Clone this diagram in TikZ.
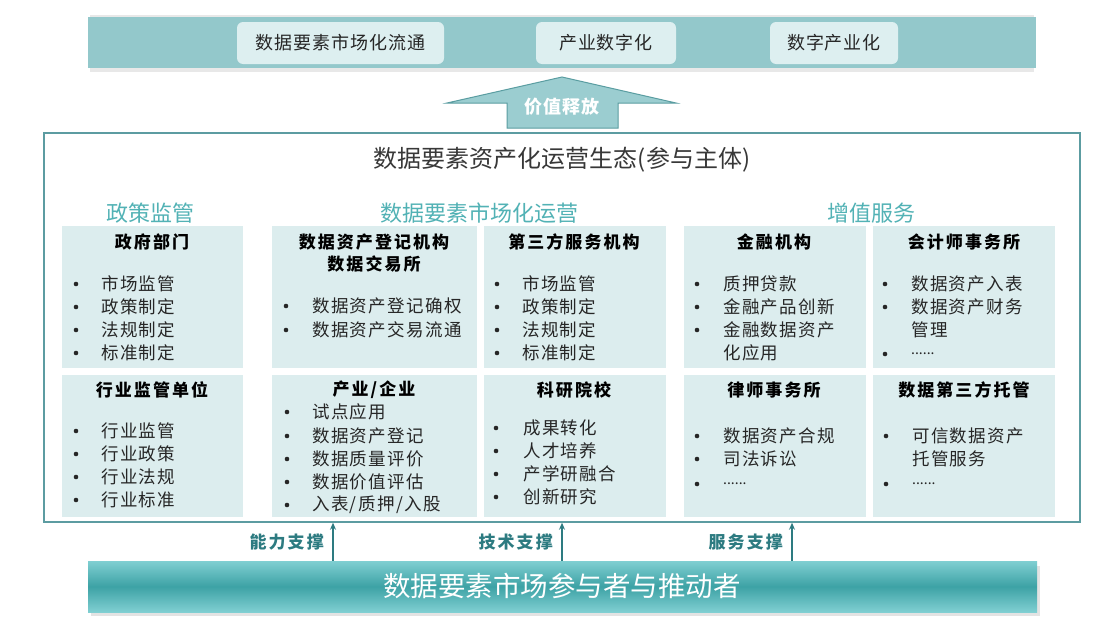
\documentclass[tikz,border=0pt]{standalone}
\usepackage{fontspec}
\setmainfont{Noto Sans CJK SC}
\newfontfamily\lsA{Noto Sans CJK SC}[LetterSpace=8]
\newfontfamily\lsB{Noto Sans CJK SC}[LetterSpace=12]
\newfontfamily\lsC{Noto Sans CJK SC}[LetterSpace=5]
\usetikzlibrary{arrows.meta}
\definecolor{barteal}{HTML}{93C8CB}
\definecolor{pale}{HTML}{DDEFF0}
\definecolor{cellbg}{HTML}{DCEDEE}
\definecolor{frameteal}{HTML}{5C9CA1}
\definecolor{headteal}{HTML}{52B2B5}
\definecolor{darkteal}{HTML}{2D7B81}
\definecolor{txtgray}{HTML}{262626}
\definecolor{arrowfill}{HTML}{9BCDD0}
\definecolor{arrowline}{HTML}{5A9DA1}
\definecolor{bbedge}{HTML}{80CFD2}
\definecolor{bbmid}{HTML}{3DA2A5}
\tikzset{
  cell/.style={fill=cellbg, draw=none, inner sep=0, anchor=north west},
  ttl/.style={font=\lsB\fontsize{17}{21}\selectfont\bfseries, text=black, inner sep=0, align=center},
  itm/.style={font=\lsA\fontsize{17.5}{21}\selectfont, text=txtgray, anchor=west, inner sep=0},
  dots/.style={font=\fontsize{14}{16}\selectfont, text=txtgray, anchor=west, inner sep=0},
  bul/.style={circle, fill=txtgray, inner sep=0, minimum size=4.6},
  sect/.style={font=\fontsize{22}{26}\selectfont, text=headteal, inner sep=0},
  pill/.style={fill=pale, rounded corners=6pt, minimum height=42, inner sep=0,
    font=\lsC\fontsize{18}{22}\selectfont, text=txtgray},
  sup/.style={font=\lsB\fontsize{17}{20}\selectfont\bfseries, text=darkteal, anchor=east, inner sep=0},
  uparrow/.style={draw=darkteal, line width=1.3pt, -{Stealth[length=7pt,width=6pt]}},
}
\begin{document}
\begin{tikzpicture}[x=1pt,y=-1pt]
\useasboundingbox (0,0) rectangle (1119,635);
\fill[white] (0,0) rectangle (1119,635);

% top bar
\fill[gray!18] (90,15) rectangle (1034,72);
\node[fill=barteal, minimum width=948, minimum height=51, inner sep=0] (topbar) at (562,42.5) {};
\node[pill, minimum width=207] (p1) at (340.5,43) {数据要素市场化流通};
\node[pill, minimum width=140] (p2) at (606,43) {产业数字化};
\node[pill, minimum width=128] (p3) at (834,43) {数字产业化};

% value arrow
\draw[fill=arrowfill, draw=arrowline, line width=1pt]
  (507,128) -- (507,103) -- (447,103) -- (562,77) -- (676,103) -- (618,103) -- (618,128) -- cycle;
\node[font=\lsC\fontsize{18}{20}\selectfont\bfseries, text=white, inner sep=0] (va) at (562,107) {价值释放};

% main frame
\node[draw=frameteal, line width=1.5pt, minimum width=1036, minimum height=389, inner sep=0] (frame) at (562,327.5) {};
\node[font=\fontsize{24}{28}\selectfont, text=black!78, inner sep=0] (title) at (562,160) {数据要素资产化运营生态(参与主体)};

\node[sect] (s1) at (150,213) {政策监管};
\node[sect] (s2) at (479,213) {数据要素市场化运营};
\node[sect] (s3) at (871,213) {增值服务};

% cells
\node[cell, minimum width=181, minimum height=142] (c11) at (62,226) {};
\node[cell, minimum width=205, minimum height=142] (c21) at (272,226) {};
\node[cell, minimum width=182, minimum height=142] (c31) at (484,226) {};
\node[cell, minimum width=182, minimum height=142] (c41) at (684,226) {};
\node[cell, minimum width=182, minimum height=142] (c51) at (873,226) {};
\node[cell, minimum width=181, minimum height=142] (c12) at (62,375) {};
\node[cell, minimum width=205, minimum height=142] (c22) at (272,375) {};
\node[cell, minimum width=182, minimum height=142] (c32) at (484,375) {};
\node[cell, minimum width=182, minimum height=142] (c42) at (684,375) {};
\node[cell, minimum width=182, minimum height=142] (c52) at (873,375) {};

% col 1 row 1
\node[ttl] (t11) at (152,242) {政府部门};
\foreach \y/\t in {284/市场监管,307/政策制定,330/法规制定,353/标准制定}{
  \node[bul] at (76,\y) {}; \node[itm] at (101,\y) {\t};}
% col 1 row 2
\node[ttl] (t12) at (152,390) {行业监管单位};
\foreach \y/\t in {431/行业监管,454/行业政策,477/行业法规,500/行业标准}{
  \node[bul] at (76,\y) {}; \node[itm] at (101,\y) {\t};}

% col 2 row 1
\node[ttl] (t21) at (374,253) {数据资产登记机构\\[1pt]数据交易所};
\foreach \y/\t in {306/数据资产登记确权,330/数据资产交易流通}{
  \node[bul] at (286,\y) {}; \node[itm] at (312,\y) {\t};}
% col 2 row 2
\node[ttl] (t22) at (374,390) {产业/企业};
\foreach \y/\t in {412/试点应用,436/数据资产登记,459/数据质量评价,482/数据价值评估}{
  \node[bul] at (287,\y) {}; \node[itm] at (312,\y) {\t};}
\node[bul] at (287,505) {}; \node[itm] at (312,505) {入表/质押/入股};

% col 3 row 1
\node[ttl] (t31) at (574,242) {第三方服务机构};
\foreach \y/\t in {284/市场监管,307/政策制定,330/法规制定,353/标准制定}{
  \node[bul] at (497,\y) {}; \node[itm] at (522,\y) {\t};}
% col 3 row 2
\node[ttl] (t32) at (574,390) {科研院校};
\foreach \y/\t in {428/成果转化,451/人才培养,474/产学研融合,497/创新研究}{
  \node[bul] at (496,\y) {}; \node[itm] at (523,\y) {\t};}

% col 4 row 1
\node[ttl] (t41) at (774,242) {金融机构};
\foreach \y/\t in {284/质押贷款,307/金融产品创新,330/金融数据资产}{
  \node[bul] at (697,\y) {}; \node[itm] at (723,\y) {\t};}
\node[itm] at (723,353) {化应用};
% col 4 row 2
\node[ttl] (t42) at (774,390) {律师事务所};
\foreach \y/\t in {436/数据资产合规,459/司法诉讼}{
  \node[bul] at (697,\y) {}; \node[itm] at (723,\y) {\t};}
\node[bul] at (697,484) {}; \node[dots] at (723,484) {......};

% col 5 row 1
\node[ttl] (t51) at (964,242) {会计师事务所};
\foreach \y/\t in {284/数据资产入表,307/数据资产财务}{
  \node[bul] at (885,\y) {}; \node[itm] at (911,\y) {\t};}
\node[itm] at (911,330) {管理};
\node[bul] at (885,354) {}; \node[dots] at (911,354) {......};
% col 5 row 2
\node[ttl] (t52) at (964,390) {数据第三方托管};
\node[bul] at (886,436) {}; \node[itm] at (912,436) {可信数据资产};
\node[itm] at (912,459) {托管服务};
\node[bul] at (886,484) {}; \node[dots] at (912,484) {......};

% bottom bar
\fill[gray!22] (91,566) rectangle (1040,616);
\shade[top color=bbedge, bottom color=bbedge, middle color=bbmid] (88,561) rectangle (1037,612);
\node[minimum width=949, minimum height=51, inner sep=0] (bottom) at (562.5,586.5) {};
\node[font=\fontsize{27.5}{30}\selectfont, text=white, inner sep=0] (btext) at (562,586) {数据要素市场参与者与推动者};

% support arrows
\coordinate (a1) at (333,0);
\coordinate (a2) at (562,0);
\coordinate (a3) at (792,0);
\draw[uparrow] (bottom.north -| a1) -- (frame.south -| a1);
\draw[uparrow] (bottom.north -| a2) -- (frame.south -| a2);
\draw[uparrow] (bottom.north -| a3) -- (frame.south -| a3);
\node[sup] (l1) at (324,542) {能力支撑};
\node[sup] (l2) at (553,542) {技术支撑};
\node[sup] (l3) at (783,542) {服务支撑};
\end{tikzpicture}
\end{document}
